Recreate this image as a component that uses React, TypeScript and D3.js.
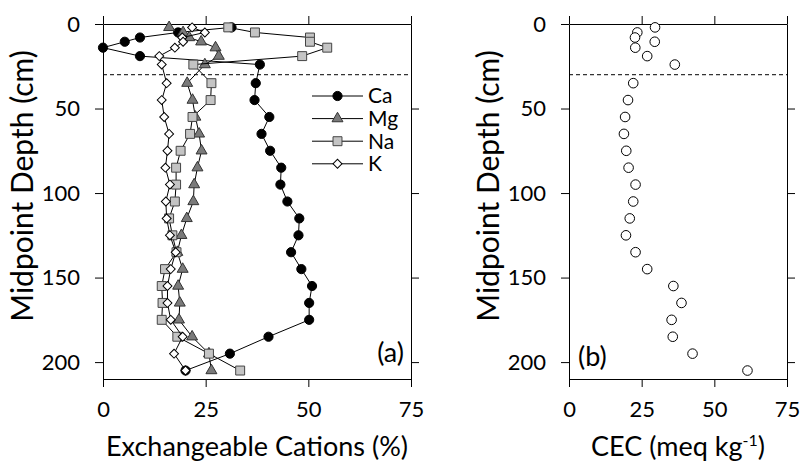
import React, { useEffect, useRef } from 'react';
import * as d3 from 'd3';

// midpoint depth of each sampled layer (cm)
const depth = [2, 5, 8, 10.5, 14, 19, 24, 35, 45, 55, 65, 75, 85, 95, 105, 115, 125, 135, 145, 155, 165, 175, 185, 195, 205];

// exchangeable cations (%)
const ca = [31.3, 18.3, 9.0, 5.3, 0, 9.0, 38.2, 37.2, 36.9, 40.5, 38.6, 40.7, 43.4, 43.2, 44.9, 47.8, 47.6, 45.8, 48.3, 50.9, 50.2, 50.2, 40.3, 30.9, 20.1];
const mg = [16.1, 19.5, 21.0, 23.9, 27.4, 28.2, 24.8, 20.5, 21.8, 22.5, 23.4, 24.0, 23.0, 22.2, 22.0, 20.4, 19.1, 18.1, 19.4, 18.3, 18.7, 18.5, 21.7, 25.8, 26.4];
const na = [30.5, 37.0, 50.4, 50.4, 54.6, 48.5, 22.0, 26.4, 26.2, 21.8, 21.2, 18.9, 17.8, 17.8, 17.5, 16.1, 16.9, 17.9, 15.1, 14.3, 14.5, 14.3, 18.1, 25.8, 33.4];
const k = [21.7, 24.8, 19.3, 19.5, 17.5, 13.7, 14.3, 15.5, 14.3, 14.9, 16.1, 15.7, 15.2, 16.3, 15.3, 15.5, 16.3, 17.7, 16.5, 15.7, 15.7, 16.5, 19.4, 17.3, 20.1];

// cation exchange capacity (meq/kg)
const cec = [29.6, 23.5, 22.7, 29.5, 22.8, 26.9, 36.4, 22.1, 20.3, 19.3, 18.9, 19.7, 20.5, 22.9, 22.1, 20.9, 19.6, 22.9, 26.9, 35.9, 38.7, 35.3, 35.7, 42.5, 61.4];

const seriesNames = ['Ca', 'Mg', 'Na', 'K'];
const seriesValues = [ca, mg, na, k];
const xTicks = [0, 25, 50, 75];
const yTicks = [0, 50, 100, 150, 200];
const boundaryDepth = 30;

const FONT = 'Lato, sans-serif';

const markerStyle: Record<string, { shape: string; fill: string }> = {
  Ca: { shape: 'circle', fill: '#000' },
  Mg: { shape: 'triangle', fill: '#7a7a7a' },
  Na: { shape: 'square', fill: '#c4c4c4' },
  K: { shape: 'diamond', fill: '#fff' },
};

const addMarker = (g: any, shape: string, fill: string) => {
  if (shape === 'circle') {
    g.append('circle').attr('r', 4.6).attr('fill', fill).attr('stroke', '#000')
  } else if (shape === 'triangle') {
    g.append('path').attr('d', d3.symbol().type(d3.symbolTriangle).size(52)()).attr('fill', fill).attr('stroke', '#333')
  } else if (shape === 'square') {
    g.append('path').attr('d', d3.symbol().type(d3.symbolSquare).size(80)()).attr('fill', fill).attr('stroke', '#444')
  } else {
    g.append('path').attr('d', d3.symbol().type(d3.symbolSquare).size(40)()).attr('transform', 'rotate(45)').attr('fill', fill).attr('stroke', '#000')
  }
}

export default function App() {
  const svgRef = useRef<SVGSVGElement>(null)

  useEffect(() => {
    const svg = d3.select(svgRef.current)
    svg.selectAll('*').remove()

    const y = d3.scaleLinear().domain([0, 210]).range([24, 379])
    const xA = d3.scaleLinear().domain([0, 75]).range([103, 411])
    const xB = d3.scaleLinear().domain([0, 75]).range([569, 787])

    const frame = (x: any, title: string) => {
      const g = svg.append('g')
      const style = (sel: any) => sel.attr('font-family', FONT).attr('font-size', 22)
        .call((s: any) => s.selectAll('text').attr('fill', '#000'))
      g.append('g').attr('transform', `translate(0,${y(210)})`)
        .call(d3.axisBottom(x).tickValues(xTicks).tickSize(8).tickSizeOuter(0).tickPadding(14)).call(style)
      g.append('g').attr('transform', `translate(0,${y(0)})`)
        .call(d3.axisTop(x).tickValues(xTicks).tickSize(8).tickSizeOuter(0).tickFormat(() => ''))
      g.append('g').attr('transform', `translate(${x(0)},0)`)
        .call(d3.axisLeft(y).tickValues(yTicks).tickSize(8).tickSizeOuter(0).tickPadding(15)).call(style)
      g.append('g').attr('transform', `translate(${x(75)},0)`)
        .call(d3.axisRight(y).tickValues(yTicks.slice(1)).tickSize(8).tickSizeOuter(0).tickFormat(() => ''))

      // dashed boundary
      g.append('line')
        .attr('x1', x(0)).attr('x2', x(75))
        .attr('y1', y(boundaryDepth)).attr('y2', y(boundaryDepth))
        .attr('stroke', '#000').attr('stroke-dasharray', '4,3')

      // y title
      g.append('text')
        .attr('transform', `translate(${x(0) - 70},186) rotate(-90)`)
        .attr('text-anchor', 'middle').attr('font-family', FONT).attr('font-size', 30)
        .text('Midpoint Depth (cm)')

      // x title
      const t = g.append('text')
        .attr('x', (x(0) + x(75)) / 2).attr('y', 456)
        .attr('text-anchor', 'middle').attr('font-family', FONT).attr('font-size', 27)
      if (title === 'CEC') {
        t.append('tspan').text('CEC (meq kg')
        t.append('tspan').attr('font-size', 16).attr('dy', -10).text('-1')
        t.append('tspan').attr('dy', 10).text(')')
      } else {
        t.text(title)
      }
      return g
    }

    // panel (a)
    const ga = frame(xA, 'Exchangeable Cations (%)')
    const line = (x: any) => d3.line<number>().x(v => x(v)).y((v, i) => y(depth[i]))

    seriesNames.forEach((name, si) => {
      const vals = seriesValues[si]
      const st = markerStyle[name]
      ga.append('path').attr('d', line(xA)(vals)).attr('fill', 'none').attr('stroke', '#000').attr('stroke-width', 1)
      vals.forEach((v, i) => {
        const m = ga.append('g').attr('transform', `translate(${xA(v)},${y(depth[i])})`)
        addMarker(m, st.shape, st.fill)
      })
    })

    // legend
    seriesNames.forEach((name, i) => {
      const ly = 96 + i * 22.6
      const lg = ga.append('g')
      lg.append('line').attr('x1', 312).attr('x2', 363).attr('y1', ly).attr('y2', ly).attr('stroke', '#000')
      const m = lg.append('g').attr('transform', `translate(337.5,${ly})`)
      addMarker(m, markerStyle[name].shape, markerStyle[name].fill)
      lg.append('text').attr('x', 368).attr('y', ly).attr('dy', '0.35em')
        .attr('font-family', FONT).attr('font-size', 21).text(name)
    })

    ga.append('text').attr('x', 404).attr('y', 362).attr('text-anchor', 'end')
      .attr('font-family', FONT).attr('font-size', 27).text('(a)')

    // panel (b)
    const gb = frame(xB, 'CEC')
    cec.forEach((v, i) => {
      gb.append('circle').attr('cx', xB(v)).attr('cy', y(depth[i])).attr('r', 4.8)
        .attr('fill', '#fff').attr('stroke', '#000')
    })
    gb.append('text').attr('x', 578).attr('y', 366)
      .attr('font-family', FONT).attr('font-size', 27).text('(b)')
  }, [])

  return (
    <svg ref={svgRef} width={802} height={463}
      style={{ position: 'absolute', left: 0, top: 0, background: '#fff' }} />
  )
}
